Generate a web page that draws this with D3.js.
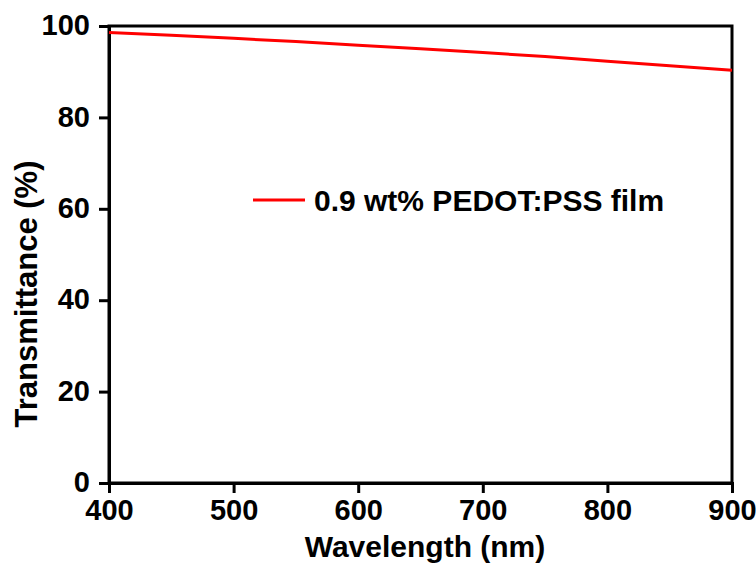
<!DOCTYPE html>
<meta charset="utf-8">
<style>
  body { margin: 0; background: #fff; }
  text { font-family: "Liberation Sans", Arial, sans-serif; font-weight: bold; }
</style>
<body>
<script src="https://d3js.org/d3.v7.min.js"></script>
<script>
  // data
  const wavelength = [400, 450, 500, 550, 600, 650, 700, 750, 800, 850, 900];
  const transmit = [98.6, 98.0, 97.3, 96.6, 95.8, 95.0, 94.2, 93.3, 92.3, 91.3, 90.3];
  const xTicks = [400, 500, 600, 700, 800, 900];
  const yTicks = [0, 20, 40, 60, 80, 100];
  const seriesName = "0.9 wt% PEDOT:PSS film";

  const W = 756, H = 574;
  const m = {left: 109, right: 24, top: 26, bottom: 91};

  const svg = d3.select("body").append("svg")
    .attr("width", W).attr("height", H);

  const x = d3.scaleLinear().domain([400, 900]).range([m.left, W - m.right]);
  const y = d3.scaleLinear().domain([0, 100]).range([H - m.bottom, m.top]);

  // frame
  svg.append("rect")
    .attr("x", x(400)).attr("y", y(100))
    .attr("width", x(900) - x(400)).attr("height", y(0) - y(100))
    .attr("fill", "none").attr("stroke", "#000").attr("stroke-width", 3);

  const gx = svg.append("g")
    .attr("transform", `translate(0,${y(0)})`)
    .call(d3.axisBottom(x).tickValues(xTicks).tickSize(10).tickPadding(6));
  const gy = svg.append("g")
    .attr("transform", `translate(${x(400)},0)`)
    .call(d3.axisLeft(y).tickValues(yTicks).tickSize(10).tickPadding(9));

  [gx, gy].forEach(g => {
    g.select(".domain").attr("stroke-width", 3);
    g.selectAll(".tick line").attr("stroke-width", 3);
    g.selectAll(".tick text").attr("font-size", 29)
      .attr("font-family", "Liberation Sans, Arial, sans-serif")
      .attr("font-weight", "bold").attr("fill", "#000");
  });
  // keep "0" clear of "400"
  gy.selectAll(".tick text").attr("dy", "0.3em");

  const line = d3.line().x((d, i) => x(wavelength[i])).y(d => y(d));
  svg.append("path").datum(transmit)
    .attr("d", line)
    .attr("fill", "none").attr("stroke", "#ff0000").attr("stroke-width", 3);

  // legend
  svg.append("line")
    .attr("x1", 253).attr("x2", 305).attr("y1", 200).attr("y2", 200)
    .attr("stroke", "#ff0000").attr("stroke-width", 3);
  svg.append("text")
    .attr("x", 314).attr("y", 211)
    .attr("font-size", 30)
    .text(seriesName);

  // axis titles
  svg.append("text")
    .attr("x", 425).attr("y", 557)
    .attr("text-anchor", "middle").attr("font-size", 30)
    .text("Wavelength (nm)");
  svg.append("text")
    .attr("transform", `translate(37,294) rotate(-90)`)
    .attr("text-anchor", "middle").attr("font-size", 31)
    .text("Transmittance (%)");
</script>
</body>
